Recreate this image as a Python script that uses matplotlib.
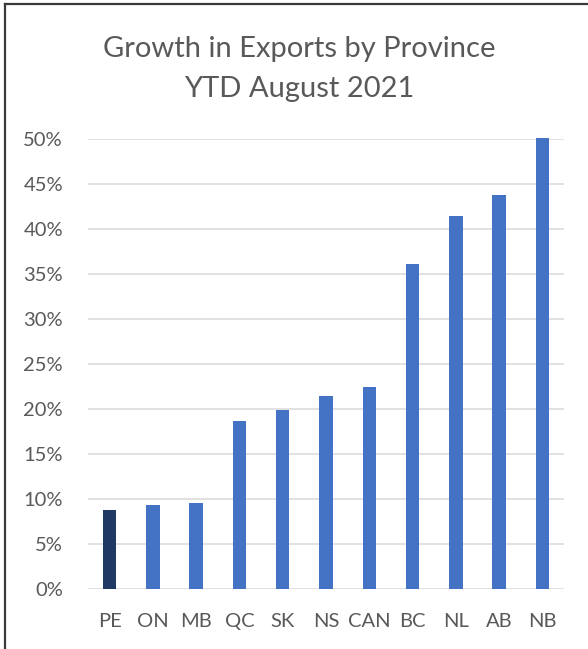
import matplotlib
matplotlib.use("Agg")
import matplotlib.pyplot as plt
from matplotlib.ticker import FuncFormatter, MultipleLocator
from matplotlib.lines import Line2D

provinces = ["PE", "ON", "MB", "QC", "SK", "NS", "CAN", "BC", "NL", "AB", "NB"]
growth = [0.088, 0.093, 0.096, 0.187, 0.199, 0.215, 0.225, 0.361, 0.415, 0.438, 0.501]
bar_colors = ["#203864"] + ["#4472C4"] * 10

plt.rcParams['font.family'] = ['Lato', 'DejaVu Sans']
text_color = "#595959"

fig = plt.figure(figsize=(5.88, 6.49), dpi=100)
ax = fig.add_axes([88/588, 60/649, 476/588, 450/649])

x = range(len(provinces))
ax.bar(x, growth, width=0.31, color=bar_colors, zorder=3, clip_on=False)
ax.set_xlim(-0.5, len(provinces) - 0.5)
ax.set_ylim(0, 0.5)
ax.yaxis.set_major_locator(MultipleLocator(0.05))
ax.yaxis.set_major_formatter(FuncFormatter(lambda v, p: f"{round(v*100)}%"))
ax.set_xticks(list(x))
ax.set_xticklabels(provinces)
ax.grid(axis="y", color="#D9D9D9", linewidth=1.1, zorder=0)
ax.set_axisbelow(True)
for s in ax.spines.values():
    s.set_visible(False)
ax.tick_params(axis="both", length=0, labelsize=14.5, colors=text_color)
ax.tick_params(axis="y", pad=18)
ax.tick_params(axis="x", pad=17)

fig.text(299/588, 1 - 57/649, "Growth in Exports by Province", ha="center", va="baseline",
         fontsize=21, color=text_color)
fig.text(299/588, 1 - 97/649, "YTD August 2021", ha="center", va="baseline",
         fontsize=21, color=text_color)

# frame lines (left and top border)
fig.add_artist(Line2D([5/588, 5/588], [0, 1 - 4/649], transform=fig.transFigure,
                      color="#3a3a3a", linewidth=1.6))
fig.add_artist(Line2D([5/588, 1], [1 - 4/649, 1 - 4/649], transform=fig.transFigure,
                      color="#3a3a3a", linewidth=1.6))

fig.savefig("out.png", dpi=100)
